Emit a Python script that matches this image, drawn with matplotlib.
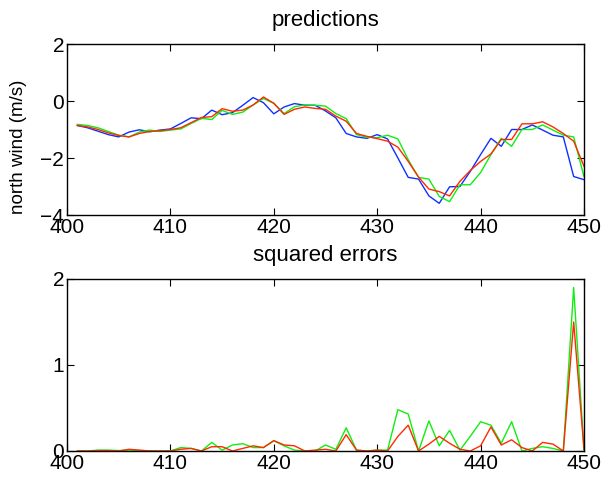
import matplotlib
matplotlib.use("Agg")
import matplotlib.pyplot as plt
import numpy as np

plt.rcParams['font.family'] = ['Liberation Sans', 'DejaVu Sans']

t = list(range(401, 451))

truth = [-0.86, -0.94, -1.06, -1.18, -1.26, -1.09, -1.01, -1.08, -1.02, -0.98,
         -0.79, -0.59, -0.62, -0.32, -0.48, -0.41, -0.15, 0.12, -0.06, -0.45,
         -0.21, -0.09, -0.15, -0.15, -0.35, -0.59, -1.14, -1.26, -1.31, -1.18,
         -1.33, -2.00, -2.68, -2.74, -3.33, -3.59, -3.01, -3.00, -2.47, -1.88,
         -1.31, -1.59, -1.00, -1.00, -0.84, -1.02, -1.20, -1.26, -2.65, -2.76]

pred_green = [-0.82, -0.86, -0.94, -1.07, -1.20, -1.26, -1.09, -1.02, -1.07, -1.02,
              -0.98, -0.79, -0.61, -0.65, -0.33, -0.47, -0.39, -0.14, 0.09, -0.08,
              -0.44, -0.20, -0.14, -0.15, -0.18, -0.44, -0.62, -1.18, -1.27, -1.29,
              -1.20, -1.33, -2.06, -2.68, -2.74, -3.35, -3.53, -2.94, -2.94, -2.51,
              -1.88, -1.31, -1.59, -1.00, -1.00, -0.84, -1.02, -1.20, -1.26, -2.65]

pred_red = [-0.86, -0.91, -1.00, -1.12, -1.21, -1.26, -1.14, -1.07, -1.04, -1.00,
            -0.94, -0.76, -0.58, -0.55, -0.27, -0.36, -0.32, -0.14, 0.14, -0.08,
            -0.47, -0.29, -0.21, -0.26, -0.29, -0.53, -0.71, -1.14, -1.24, -1.32,
            -1.41, -1.62, -2.12, -2.67, -3.09, -3.18, -3.33, -2.82, -2.44, -2.12,
            -1.86, -1.35, -1.35, -0.80, -0.80, -0.73, -0.91, -1.14, -1.41, -2.29]

err_green = [0.0, 0.0, 0.01, 0.01, 0.005, 0.01, 0.005, 0.003, 0.0, 0.0,
             0.04, 0.03, 0.0, 0.10, 0.01, 0.07, 0.085, 0.04, 0.04, 0.12,
             0.06, 0.01, 0.0, 0.0, 0.07, 0.02, 0.27, 0.01, 0.0, 0.01,
             0.01, 0.48, 0.43, 0.0, 0.35, 0.06, 0.24, 0.01, 0.17, 0.34,
             0.30, 0.09, 0.34, 0.0, 0.03, 0.05, 0.03, 0.0, 1.90, 0.01]

err_red = [0.0, 0.0, 0.005, 0.005, 0.0, 0.02, 0.01, 0.0, 0.0, 0.0,
           0.02, 0.03, 0.0, 0.05, 0.05, 0.0, 0.03, 0.06, 0.04, 0.12,
           0.07, 0.06, 0.0, 0.01, 0.02, 0.0, 0.19, 0.01, 0.0, 0.01,
           0.0, 0.17, 0.30, 0.0, 0.08, 0.17, 0.09, 0.02, 0.0, 0.06,
           0.28, 0.07, 0.13, 0.04, 0.0, 0.10, 0.08, 0.0, 1.50, 0.02]

xticks = [400, 410, 420, 430, 440, 450]

BLUE = '#1030ff'
GREEN = '#10ee10'
RED = '#ff2a00'

fig = plt.figure(figsize=(6.03, 4.8), dpi=100)
ax1 = fig.add_axes([67/603, 1 - 215/480, 517/603, 171/480])
ax2 = fig.add_axes([67/603, 1 - 451/480, 517/603, 172/480])

def style(ax):
    ax.tick_params(direction='in', top=True, right=True, length=5, width=0.8,
                   labelsize=15, pad=2)
    for s in ax.spines.values():
        s.set_linewidth(1.0)
    ax.set_xlim(400, 450)
    ax.set_xticks(xticks)

ax1.plot(t, truth, color=BLUE, lw=1.0)
ax1.plot(t, pred_green, color=GREEN, lw=1.0)
ax1.plot(t, pred_red, color=RED, lw=1.0)
style(ax1)
ax1.set_ylim(-4, 2)
ax1.set_yticks([-4, -2, 0, 2])
ax1.set_title('predictions', fontsize=16, pad=13)
ax1.set_ylabel('north wind (m/s)', fontsize=13.5)
ax1.yaxis.set_label_coords(-0.078, 0.40)

ax2.plot(t, err_green, color=GREEN, lw=1.0)
ax2.plot(t, err_red, color=RED, lw=1.0)
style(ax2)
ax2.set_ylim(0, 2)
ax2.set_yticks([0, 1, 2])
ax2.set_title('squared errors', fontsize=16, pad=13)

fig.savefig('out.png', dpi=100)
